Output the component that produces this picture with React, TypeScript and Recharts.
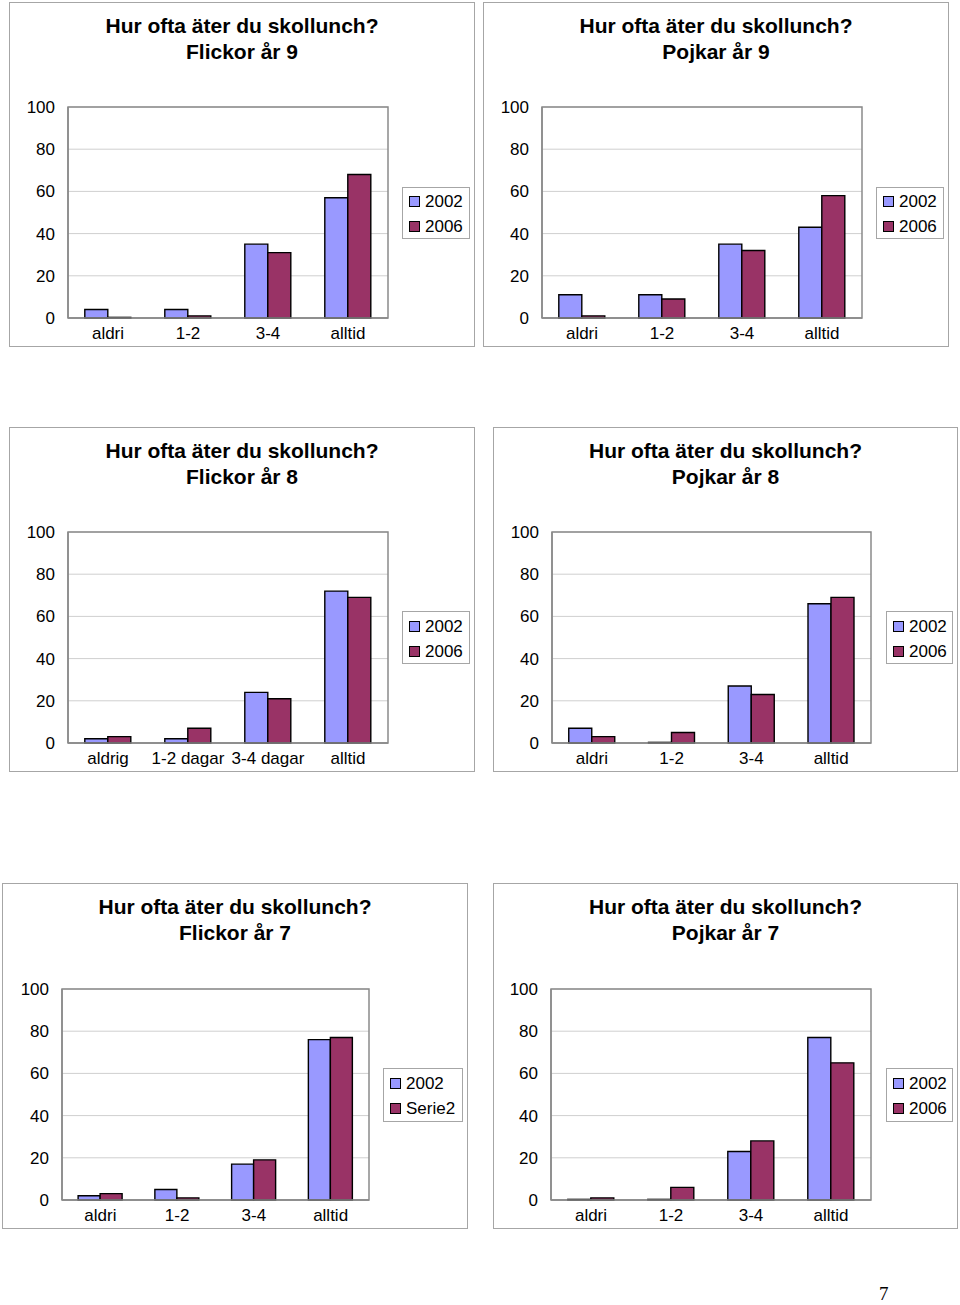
import React from 'react';
import { BarChart, Bar, XAxis, YAxis, CartesianGrid, Legend, ReferenceArea } from 'recharts';

// ---- data ----
const categoriesShort = ['aldri', '1-2', '3-4', 'alltid'];
const categoriesF8 = ['aldrig', '1-2 dagar', '3-4 dagar', 'alltid'];
const yTicks = [0, 20, 40, 60, 80, 100];

const titleLine1 = 'Hur ofta äter du skollunch?';

const flickor9_2002 = [4, 4, 35, 57];
const flickor9_2006 = [0.3, 1, 31, 68];
const pojkar9_2002 = [11, 11, 35, 43];
const pojkar9_2006 = [1, 9, 32, 58];
const flickor8_2002 = [2, 2, 24, 72];
const flickor8_2006 = [3, 7, 21, 69];
const pojkar8_2002 = [7, 0.3, 27, 66];
const pojkar8_2006 = [3, 5, 23, 69];
const flickor7_2002 = [2, 5, 17, 76];
const flickor7_2006 = [3, 1, 19, 77];
const pojkar7_2002 = [0.3, 0.3, 23, 77];
const pojkar7_2006 = [1, 6, 28, 65];

const seriesNames = ['2002', '2006'];
const seriesNamesF7 = ['2002', 'Serie2'];

// ---- styles ----
const FONT = '"Liberation Sans", Arial, Helvetica, sans-serif';
const COLOR_A = '#9999FF';
const COLOR_B = '#993366';
const GRID = '#cfcfcf';
const FRAME = '#8a8a8a';
const PANEL_BORDER = '#a6a6a6';

type PanelProps = {
  left: number;
  top: number;
  width: number;
  height: number;
  subtitle: string;
  categories: string[];
  a: number[];
  b: number[];
  names: string[];
  plot: { left: number; top: number; right: number; bottom: number };
  legend: { x: number; y: number; w: number; h: number };
};

const makeLegend = (w: number, h: number) => (props: any) => {
  const payload = props.payload || [];
  return (
    <div
      style={{
        width: w,
        height: h,
        boxSizing: 'border-box',
        border: `1px solid ${PANEL_BORDER}`,
        background: '#fff',
        paddingLeft: 6,
        paddingTop: (h - 50) / 2,
        fontFamily: FONT,
      }}
    >
      {payload.map((p: any, i: number) => (
        <div key={i} style={{ display: 'flex', alignItems: 'center', height: 25 }}>
          <span
            style={{
              display: 'inline-block',
              width: 11,
              height: 11,
              boxSizing: 'border-box',
              background: p.color,
              border: '1px solid #000',
            }}
          />
          <span style={{ marginLeft: 5, fontSize: 17, color: '#000', lineHeight: '17px' }}>{p.value}</span>
        </div>
      ))}
    </div>
  );
};

function Panel(props: PanelProps) {
  const { left, top, width, height, subtitle, categories, a, b, names, plot, legend } = props;
  const data = categories.map((c, i) => ({ cat: c, s1: a[i], s2: b[i] }));
  return (
    <div
      style={{
        position: 'absolute',
        left,
        top,
        width,
        height,
        boxSizing: 'border-box',
        border: `1px solid ${PANEL_BORDER}`,
        background: '#fff',
      }}
    >
      <div style={{ position: 'absolute', left: -1, top: -1 }}>
        <BarChart
          width={width}
          height={height}
          data={data}
          margin={{ top: plot.top, right: plot.right, bottom: 0, left: 0 }}
          barCategoryGap="21%"
          barGap={0}
          style={{ fontFamily: FONT }}
        >
          <CartesianGrid horizontal vertical={false} stroke={GRID} strokeWidth={1} />
          <XAxis
            dataKey="cat"
            interval={0}
            height={plot.bottom}
            tickLine={false}
            tickSize={0}
            tickMargin={9}
            axisLine={{ stroke: FRAME, strokeWidth: 1.5 }}
            tick={{ fill: '#000', fontSize: 17, fontFamily: FONT }}
          />
          <YAxis
            type="number"
            domain={[0, 100]}
            ticks={yTicks}
            width={plot.left}
            tickLine={false}
            tickSize={0}
            tickMargin={13}
            axisLine={{ stroke: FRAME, strokeWidth: 1.5 }}
            tick={{ fill: '#000', fontSize: 17, fontFamily: FONT }}
          />
          <ReferenceArea
            y1={0}
            y2={100}
            fill="none"
            fillOpacity={0}
            stroke={FRAME}
            strokeWidth={1.5}
            ifOverflow="visible"
          />
          <Legend
            layout="vertical"
            align="center"
            verticalAlign="middle"
            wrapperStyle={{ left: legend.x, top: legend.y, width: legend.w, height: legend.h }}
            content={makeLegend(legend.w, legend.h)}
          />
          <Bar dataKey="s1" name={names[0]} fill={COLOR_A} stroke="#000" strokeWidth={1.4} isAnimationActive={false} />
          <Bar dataKey="s2" name={names[1]} fill={COLOR_B} stroke="#000" strokeWidth={1.4} isAnimationActive={false} />
        </BarChart>
      </div>
      <div
        style={{
          position: 'absolute',
          left: -1,
          top: 10,
          width,
          textAlign: 'center',
          fontFamily: FONT,
          fontWeight: 'bold',
          fontSize: 21,
          lineHeight: '26px',
          color: '#000',
          pointerEvents: 'none',
        }}
      >
        <div>{titleLine1}</div>
        <div>{subtitle}</div>
      </div>
    </div>
  );
}

export default function App() {
  return (
    <div
      style={{
        position: 'absolute',
        left: 0,
        top: 0,
        width: 960,
        height: 1305,
        background: '#fff',
        overflow: 'hidden',
      }}
    >
      <Panel
        left={9}
        top={2}
        width={466}
        height={345}
        subtitle="Flickor år 9"
        categories={categoriesShort}
        a={flickor9_2002}
        b={flickor9_2006}
        names={seriesNames}
        plot={{ left: 59, top: 105, right: 87, bottom: 29 }}
        legend={{ x: 393, y: 185, w: 68, h: 52 }}
      />
      <Panel
        left={483}
        top={2}
        width={466}
        height={345}
        subtitle="Pojkar år 9"
        categories={categoriesShort}
        a={pojkar9_2002}
        b={pojkar9_2006}
        names={seriesNames}
        plot={{ left: 59, top: 105, right: 87, bottom: 29 }}
        legend={{ x: 393, y: 185, w: 68, h: 52 }}
      />
      <Panel
        left={9}
        top={427}
        width={466}
        height={345}
        subtitle="Flickor år 8"
        categories={categoriesF8}
        a={flickor8_2002}
        b={flickor8_2006}
        names={seriesNames}
        plot={{ left: 59, top: 105, right: 87, bottom: 29 }}
        legend={{ x: 393, y: 184, w: 68, h: 53 }}
      />
      <Panel
        left={493}
        top={427}
        width={465}
        height={345}
        subtitle="Pojkar år 8"
        categories={categoriesShort}
        a={pojkar8_2002}
        b={pojkar8_2006}
        names={seriesNames}
        plot={{ left: 59, top: 105, right: 87, bottom: 29 }}
        legend={{ x: 393, y: 184, w: 67, h: 53 }}
      />
      <Panel
        left={2}
        top={883}
        width={466}
        height={346}
        subtitle="Flickor år 7"
        categories={categoriesShort}
        a={flickor7_2002}
        b={flickor7_2006}
        names={seriesNamesF7}
        plot={{ left: 60, top: 106, right: 99, bottom: 29 }}
        legend={{ x: 381, y: 185, w: 80, h: 54 }}
      />
      <Panel
        left={493}
        top={883}
        width={465}
        height={346}
        subtitle="Pojkar år 7"
        categories={categoriesShort}
        a={pojkar7_2002}
        b={pojkar7_2006}
        names={seriesNames}
        plot={{ left: 58, top: 106, right: 87, bottom: 29 }}
        legend={{ x: 393, y: 185, w: 67, h: 54 }}
      />
      <div
        style={{
          position: 'absolute',
          left: 879,
          top: 1283,
          fontFamily: '"Liberation Serif", "Times New Roman", serif',
          fontSize: 19,
          color: '#000',
        }}
      >
        7
      </div>
    </div>
  );
}
